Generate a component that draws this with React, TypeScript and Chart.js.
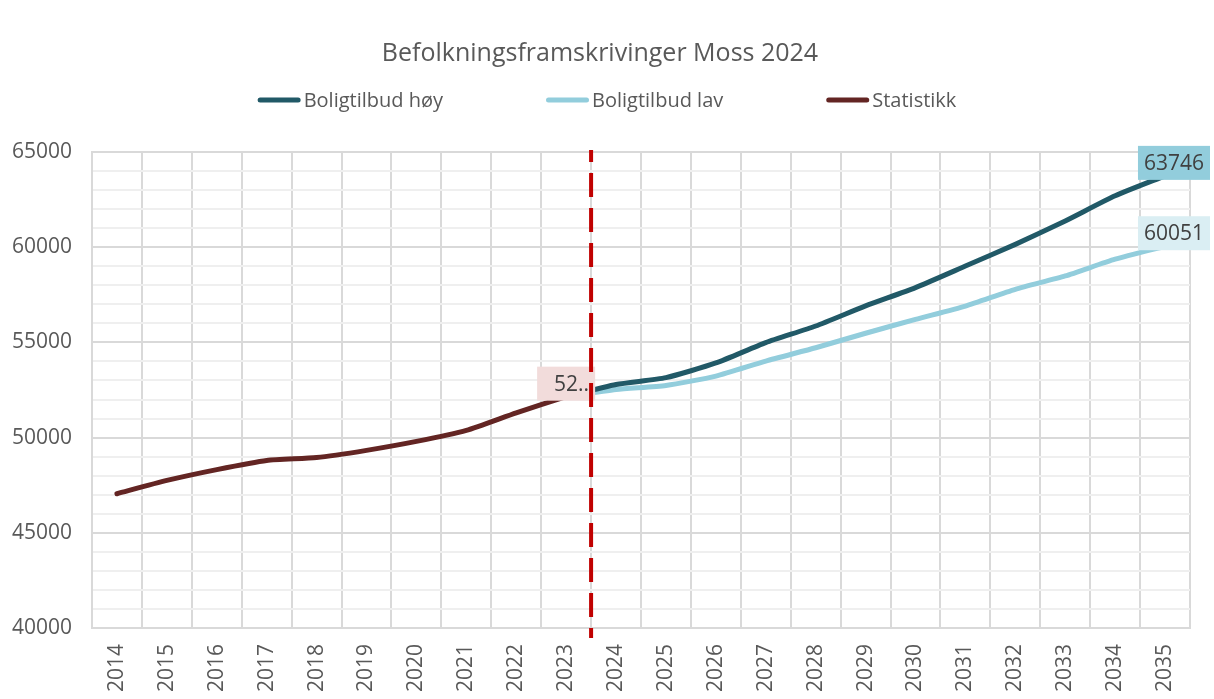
import { useEffect, useRef } from 'react';
import { Chart, registerables } from 'chart.js';

Chart.register(...registerables);

const years = ['2014', '2015', '2016', '2017', '2018', '2019', '2020', '2021', '2022', '2023', '2024', '2025', '2026', '2027', '2028', '2029', '2030', '2031', '2032', '2033', '2034', '2035'];

const statistikk: (number | null)[] = [47050, 47750, 48320, 48800, 48950, 49330, 49800, 50380, 51300, 52150, null, null, null, null, null, null, null, null, null, null, null, null];
const boligtilbudHoy: (number | null)[] = [null, null, null, null, null, null, null, null, null, 52150, 52790, 53150, 53920, 54990, 55860, 56920, 57880, 59010, 60150, 61380, 62700, 63746];
const boligtilbudLav: (number | null)[] = [null, null, null, null, null, null, null, null, null, 52150, 52530, 52740, 53230, 54020, 54720, 55480, 56210, 56910, 57790, 58490, 59370, 60051];

const yMin = 40000;
const yMax = 65000;
const yMajorStep = 5000;
const yMinorStep = 1000;
const lastHistoricYear = '2023';

const FONT = '"Open Sans", "DejaVu Sans", sans-serif';
const TEXT_COLOR = '#595959';

const legendPlugin = {
  id: 'customLegend',
  afterDraw(chart: any) {
    const ctx = chart.ctx;
    const items = chart.data.datasets.map((ds: any) => ({ label: ds.label, color: ds.borderColor }));
    ctx.save();
    ctx.font = `20px ${FONT}`;
    const sw = 43;
    const gap = 3;
    const spacing = 103;
    const widths = items.map((it: any) => sw + gap + ctx.measureText(it.label).width);
    const total = widths.reduce((a: number, b: number) => a + b, 0) + spacing * (items.length - 1);
    let x = (chart.width - total) / 2;
    const y = chart.chartArea.top - 52;
    items.forEach((it: any, i: number) => {
      ctx.strokeStyle = it.color;
      ctx.lineWidth = 5;
      ctx.lineCap = 'round';
      ctx.beginPath();
      ctx.moveTo(x + 2.5, y);
      ctx.lineTo(x + sw - 2.5, y);
      ctx.stroke();
      ctx.fillStyle = TEXT_COLOR;
      ctx.textBaseline = 'middle';
      ctx.textAlign = 'left';
      ctx.fillText(it.label, x + sw + gap, y + 1);
      x += widths[i] + spacing;
    });
    ctx.restore();
  },
};

const annotationPlugin = {
  id: 'labelsAndDivider',
  afterDatasetsDraw(chart: any) {
    const ctx = chart.ctx;
    const lastIdx = years.indexOf(lastHistoricYear);
    const lastAll = years.length - 1;
    const labelDefs = [
      { ds: 2, idx: lastIdx, text: String(statistikk[lastIdx]).slice(0, 2) + '..', bg: '#F2DCDB', minW: 58, dx: 0 },
      { ds: 0, idx: lastAll, text: String(boligtilbudHoy[lastAll]), bg: '#92CDDC', minW: 68, dx: 9 },
      { ds: 1, idx: lastAll, text: String(boligtilbudLav[lastAll]), bg: '#DAEEF3', minW: 68, dx: 9 },
    ];
    ctx.save();
    ctx.font = `21px ${FONT}`;
    labelDefs.forEach((l) => {
      const pt = chart.getDatasetMeta(l.ds).data[l.idx];
      if (!pt) return;
      const tw = ctx.measureText(l.text).width;
      const w = Math.max(tw + 12, l.minW);
      const h = 34;
      let cx = pt.x + l.dx;
      const maxRight = chart.width - 4;
      if (cx + w / 2 > maxRight) cx = maxRight - w / 2;
      const cy = pt.y - 13;
      ctx.fillStyle = l.bg;
      ctx.fillRect(cx - w / 2, cy - h / 2, w, h);
      ctx.fillStyle = '#404040';
      ctx.textAlign = 'right';
      ctx.textBaseline = 'middle';
      ctx.fillText(l.text, cx + w / 2 - 6, cy + 1);
    });

    // divider between statistics and projections
    const xs = chart.scales.x;
    const xPix = xs.getPixelForValue(lastIdx + 0.5);
    const top = chart.chartArea.top - 2;
    const bottom = chart.chartArea.bottom + 10;
    ctx.strokeStyle = '#C00000';
    ctx.lineWidth = 4;
    ctx.setLineDash([24, 11]);
    ctx.lineDashOffset = 12;
    ctx.beginPath();
    ctx.moveTo(xPix, top);
    ctx.lineTo(xPix, bottom);
    ctx.stroke();
    ctx.restore();
  },
};

export default function App() {
  const canvasRef = useRef<HTMLCanvasElement | null>(null);

  useEffect(() => {
    if (!canvasRef.current) return;
    const lineStyle = { borderWidth: 5, pointRadius: 0, tension: 0.2, borderCapStyle: 'round', borderJoinStyle: 'round' };
    const chart = new Chart(canvasRef.current, {
      type: 'line',
      data: {
        labels: years,
        datasets: [
          { label: 'Boligtilbud høy', data: boligtilbudHoy, borderColor: '#215967', backgroundColor: '#215967', ...lineStyle },
          { label: 'Boligtilbud lav', data: boligtilbudLav, borderColor: '#92CDDC', backgroundColor: '#92CDDC', ...lineStyle },
          { label: 'Statistikk', data: statistikk, borderColor: '#632523', backgroundColor: '#632523', ...lineStyle },
        ],
      },
      options: {
        animation: false,
        responsive: false,
        layout: { padding: { left: 10, right: 24, top: 0, bottom: 0 } },
        plugins: {
          legend: { display: false },
          tooltip: { enabled: false },
          title: {
            display: true,
            text: 'Befolkningsframskrivinger Moss 2024',
            color: TEXT_COLOR,
            font: { family: FONT, size: 25, weight: 'normal' },
            padding: { top: 39, bottom: 83 },
          },
        },
        scales: {
          x: {
            offset: true,
            grid: { display: true, offset: true, color: '#d9d9d9', lineWidth: 2, drawTicks: false },
            border: { display: true, color: '#d9d9d9', width: 2 },
            ticks: {
              color: TEXT_COLOR,
              font: { family: FONT, size: 21 },
              minRotation: 90,
              maxRotation: 90,
              autoSkip: false,
              padding: 16,
            },
            afterFit(scale: any) {
              scale.height = 71;
            },
          },
          y: {
            min: yMin,
            max: yMax,
            grid: {
              color: (c: any) => (c.tick && c.tick.value % yMajorStep === 0 ? '#d9d9d9' : '#efefef'),
              lineWidth: 2,
              drawTicks: false,
            },
            border: { display: true, color: '#d9d9d9', width: 2 },
            ticks: {
              stepSize: yMinorStep,
              color: TEXT_COLOR,
              font: { family: FONT, size: 21 },
              padding: 20,
              autoSkip: false,
              callback: (v: any) => (Number(v) % yMajorStep === 0 ? String(v) : ''),
            },
            afterFit(scale: any) {
              scale.width = 82;
            },
          },
        },
      },
      plugins: [legendPlugin, annotationPlugin],
    } as any);
    return () => chart.destroy();
  }, []);

  return (
    <div style={{ position: 'fixed', left: 0, top: 0, width: 1214, height: 699, background: '#fff' }}>
      <canvas ref={canvasRef} width={1214} height={699} />
    </div>
  );
}
